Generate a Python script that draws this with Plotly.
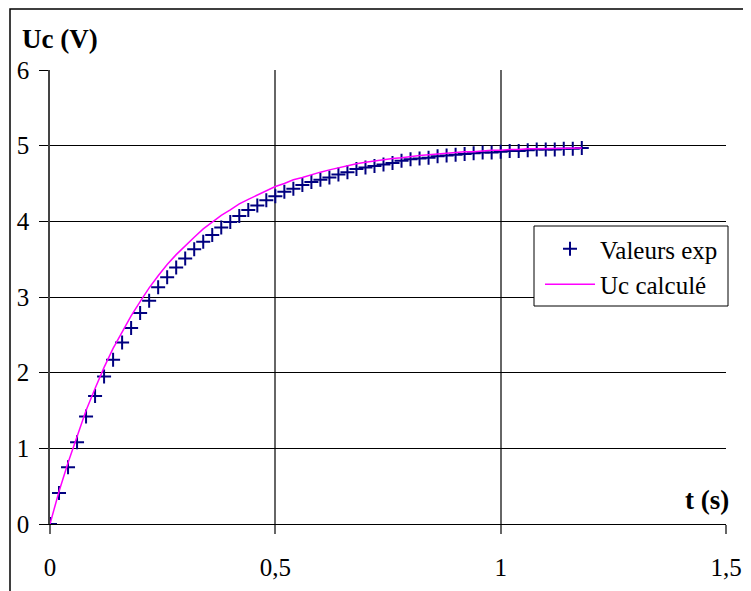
import plotly.graph_objects as go

# --- data ---
t_exp = [0.00, 0.02, 0.04, 0.06, 0.08, 0.10, 0.12, 0.14, 0.16, 0.18,
         0.20, 0.22, 0.24, 0.26, 0.28, 0.30, 0.32, 0.34, 0.36, 0.38,
         0.40, 0.42, 0.44, 0.46, 0.48, 0.50, 0.52, 0.54, 0.56, 0.58,
         0.60, 0.62, 0.64, 0.66, 0.68, 0.70, 0.72, 0.74, 0.76, 0.78,
         0.80, 0.82, 0.84, 0.86, 0.88, 0.90, 0.92, 0.94, 0.96, 0.98,
         1.00, 1.02, 1.04, 1.06, 1.08, 1.10, 1.12, 1.14, 1.16, 1.18]
u_exp = [0.00, 0.41, 0.75, 1.08, 1.42, 1.69, 1.95, 2.17, 2.40, 2.59,
         2.79, 2.95, 3.13, 3.26, 3.39, 3.51, 3.63, 3.73, 3.82, 3.92,
         3.99, 4.07, 4.15, 4.21, 4.28, 4.33, 4.39, 4.43, 4.48, 4.52,
         4.55, 4.58, 4.62, 4.65, 4.69, 4.71, 4.73, 4.75, 4.77, 4.80,
         4.82, 4.83, 4.84, 4.86, 4.87, 4.88, 4.89, 4.90, 4.91, 4.91,
         4.92, 4.93, 4.93, 4.94, 4.95, 4.95, 4.95, 4.96, 4.96, 4.97]
t_calc = t_exp
u_calc = [0.00, 0.43, 0.81, 1.17, 1.50, 1.79, 2.07, 2.32, 2.54, 2.75,
          2.94, 3.12, 3.28, 3.43, 3.56, 3.68, 3.79, 3.90, 3.99, 4.08,
          4.15, 4.23, 4.29, 4.35, 4.41, 4.46, 4.50, 4.55, 4.58, 4.62,
          4.65, 4.68, 4.71, 4.73, 4.76, 4.78, 4.80, 4.81, 4.83, 4.84,
          4.86, 4.87, 4.88, 4.89, 4.90, 4.91, 4.92, 4.92, 4.93, 4.94,
          4.94, 4.95, 4.95, 4.96, 4.96, 4.96, 4.97, 4.97, 4.97, 4.97]

x_tickvals = [0, 0.5, 1, 1.5]
x_ticktext = ["0", "0,5", "1", "1,5"]
y_tickvals = [0, 1, 2, 3, 4, 5, 6]
y_ticktext = ["0", "1", "2", "3", "4", "5", "6"]

FONT = "Liberation Serif"

fig = go.Figure()
fig.add_trace(go.Scatter(
    x=t_exp, y=u_exp, mode="markers", name="Valeurs exp",
    marker=dict(symbol="cross-thin", size=10, color="#000080",
                line=dict(color="#000080", width=2)),
))
fig.add_trace(go.Scatter(
    x=t_calc, y=u_calc, mode="lines", name="Uc calculé",
    line=dict(color="#FF00FF", width=1.5),
))

# page has an 8px body margin: the figure is drawn at (8, 8)
OFF = 8
W, H = 751 - OFF, 591 - OFF
L, R, T, B = 50 - OFF, 751 - 726, 70 - OFF, 591 - 524
pw, ph = W - L - R, H - T - B

def px(x):  # screen pixel -> paper x
    return (x - OFF - L) / pw

def py(y):  # screen pixel -> paper y
    return (H - B - (y - OFF)) / ph

fig.update_layout(
    width=W, height=H,
    margin=dict(l=L, r=R, t=T, b=B, pad=0, autoexpand=False),
    paper_bgcolor="white", plot_bgcolor="white",
    font=dict(family=FONT, size=25, color="black"),
    showlegend=True,
    legend=dict(
        x=px(540), y=py(226), xanchor="left", yanchor="top",
        bgcolor="rgba(0,0,0,0)", borderwidth=0,
        font=dict(family=FONT, size=25, color="black"),
        itemwidth=50,
    ),
    shapes=[
        # outer chart border
        dict(type="rect", xref="paper", yref="paper",
             x0=px(10), x1=px(800), y0=py(640), y1=py(9),
             line=dict(color="black", width=1.5), fillcolor="rgba(0,0,0,0)",
             layer="below"),
        # legend box
        dict(type="rect", xref="paper", yref="paper",
             x0=px(534), x1=px(728), y0=py(306), y1=py(226),
             line=dict(color="black", width=1), fillcolor="white",
             layer="above"),
    ],
    annotations=[
        dict(text="<b>Uc (V)</b>", xref="paper", yref="paper",
             x=px(20), y=py(39), xanchor="left", yanchor="middle",
             showarrow=False, font=dict(family=FONT, size=27, color="black")),
        dict(text="<b>t (s)</b>", xref="paper", yref="paper",
             x=px(731), y=py(500), xanchor="right", yanchor="middle",
             showarrow=False, font=dict(family=FONT, size=27, color="black")),
    ],
)

fig.update_xaxes(
    range=[0, 1.5], tickvals=x_tickvals, ticktext=x_ticktext,
    automargin=False,
    showgrid=True, gridcolor="#666666", gridwidth=1.5,
    showline=True, linecolor="black", linewidth=1.2,
    zeroline=False, ticks="outside", ticklen=9, tickcolor="#666666",
    tickwidth=1.5, ticklabelstandoff=12,
)
fig.update_yaxes(
    range=[0, 6], tickvals=y_tickvals, ticktext=y_ticktext,
    automargin=False,
    showgrid=True, gridcolor="black", gridwidth=1,
    showline=True, linecolor="#444444", linewidth=1.5,
    zeroline=False, ticks="outside", ticklen=9, tickcolor="black",
    ticklabelstandoff=5,
)

fig.write_html("out.html")
